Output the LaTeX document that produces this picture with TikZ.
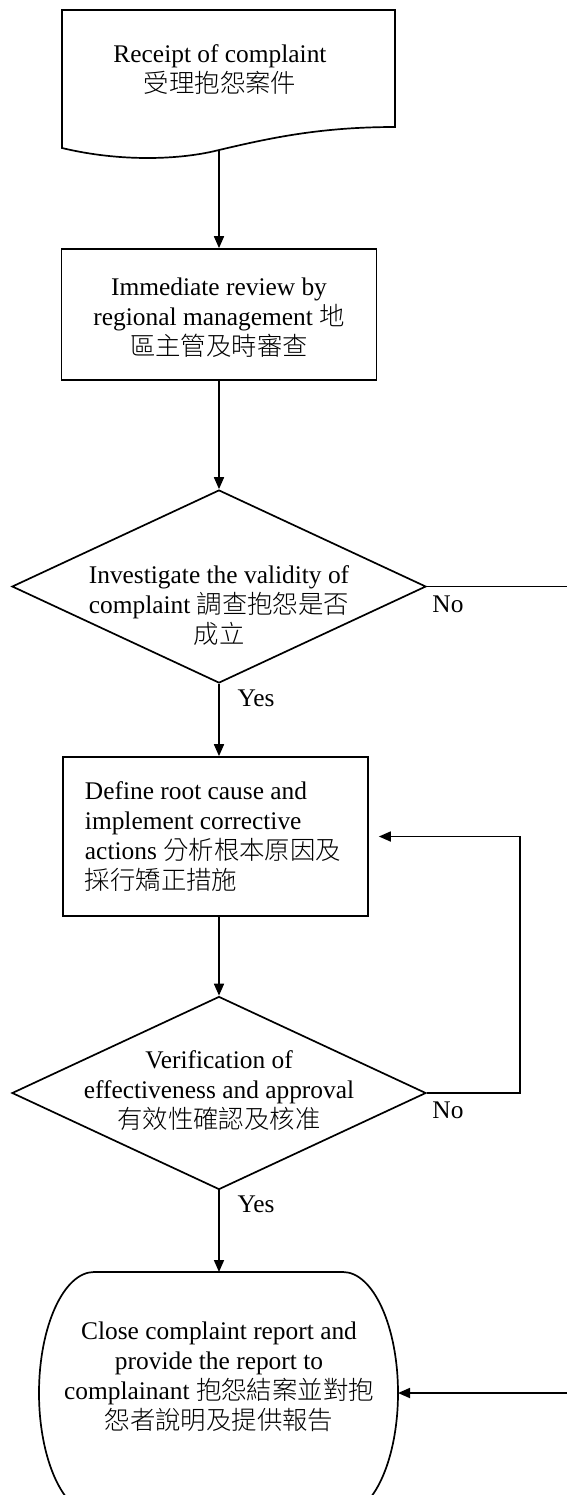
\documentclass[tikz,border=0pt]{standalone}
\usepackage{fontspec}
\setmainfont{Liberation Serif}
\newfontfamily\cjk{Noto Sans CJK TC Light}
\usetikzlibrary{shapes.geometric,arrows.meta}
\begin{document}
\begin{tikzpicture}[x=0.5pt,y=-0.5pt,
  txt/.style={font=\fontsize{12.7pt}{15pt}\selectfont,inner sep=0pt},
  line/.style={line width=0.85pt},
  arr/.style={line width=0.85pt,-{Triangle[length=6pt,width=5pt]}},
  procbox/.style={draw,line width=0.85pt,rectangle,inner sep=0pt},
  decision/.style={draw,line width=0.85pt,diamond,aspect=2.15,minimum width=207pt,minimum height=96.5pt,inner sep=0pt},
  lbl/.style={font=\fontsize{12.7pt}{15pt}\selectfont,inner sep=0pt}]
\useasboundingbox (0,0) rectangle (567,1495);

% document shape
\draw[line] (62,10) -- (395,10) -- (395,127)
  .. controls (320,127) and (270,138) .. (219,150)
  .. controls (180,160) and (120,162) .. (62,148) -- cycle;
\coordinate (docb) at (219,150);
\node[txt,align=center] (doct) at (220,70) {Receipt of complaint\\{\cjk 受理抱怨案件}};

% box 2
\node[procbox,minimum width=157.5pt,minimum height=65.5pt] (b2) at (219,314.5) {};
\node[txt,align=center] (b2t) at (219,318) {Immediate review by\\regional management {\cjk 地}\\{\cjk 區主管及時審查}};

% decision 1
\node[decision] (d1) at (219,586.5) {};
\node[txt,align=center] (d1t) at (219,606) {Investigate the validity of\\complaint {\cjk 調查抱怨是否}\\{\cjk 成立}};

% box 3
\node[procbox,minimum width=152.5pt,minimum height=79.5pt] (b3) at (215.5,836.5) {};
\node[txt,align=left] (b3t) at (213,837) {Define root cause and\\implement corrective\\actions {\cjk 分析根本原因及}\\{\cjk 採行矯正措施}};

% decision 2
\node[decision] (d2) at (219,1093) {};
\node[txt,align=center] (d2t) at (219,1091) {Verification of\\effectiveness and approval\\{\cjk 有效性確認及核准}};

% terminal
\coordinate (tN) at (219,1272);
\coordinate (tE) at (398,1393);
\draw[line] (94,1272) -- (343,1272)
  .. controls (373,1272) and (398,1326) .. (398,1393)
  .. controls (398,1460) and (373,1514) .. (343,1514)
  -- (94,1514)
  .. controls (64,1514) and (39,1460) .. (39,1393)
  .. controls (39,1326) and (64,1272) .. (94,1272) -- cycle;
\node[txt,align=center] (tt) at (219,1377) {Close complaint report and\\provide the report to\\complainant {\cjk 抱怨結案並對抱}\\{\cjk 怨者說明及提供報告}};

% connectors
\draw[arr] (docb) -- (docb |- b2.north);
\draw[arr] (b2.south) -- (d1.north);
\draw[arr] (d1.south) -- (d1.south |- b3.north);
\draw[arr] (d1.south |- b3.south) -- (d2.north);
\draw[arr] (d2.south) -- (tN);
\coordinate (r1) at (567,586.5);
\draw[line] (d1.east) -- (r1);
\coordinate (fb) at (520,1093);
\draw[arr,shorten >=5pt] (d2.east) -- (fb) |- (b3.east);
\coordinate (r2) at (567,1393);
\draw[arr] (r2) -- (tE);

% labels
\node[lbl] (no1) at (448,604) {No};
\node[lbl] (yes1) at (256,698) {Yes};
\node[lbl] (no2) at (448,1110) {No};
\node[lbl] (yes2) at (256,1204) {Yes};
\end{tikzpicture}
\end{document}
